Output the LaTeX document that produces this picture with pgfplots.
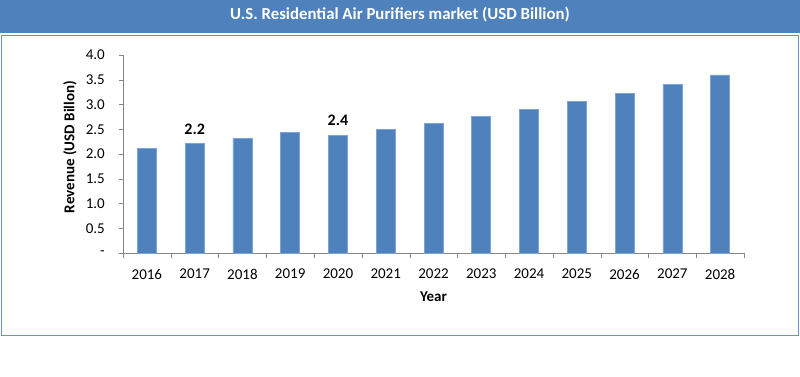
\documentclass[border=0pt]{standalone}
\usepackage{pgfplots}
\pgfplotsset{compat=1.18}
\usepackage{fontspec}
\setmainfont{Carlito}
\definecolor{barblue}{HTML}{4F81BD}
\definecolor{baredge}{HTML}{7FA4D3}
\definecolor{framecol}{HTML}{6A91C6}
\definecolor{axisgray}{HTML}{868686}
\begin{document}
\begin{tikzpicture}
\path (0pt,0pt) rectangle (800pt,376pt);
\fill[barblue] (0pt,343pt) rectangle (800pt,376pt);
\draw[framecol,line width=1.6pt] (1.5pt,40.5pt) rectangle (798.5pt,340.5pt);
\node[text=white,font=\bfseries\fontsize{16.8}{19}\selectfont] at (400pt,361pt) {U.S. Residential Air Purifiers market (USD Billion)};
\begin{axis}[
  at={(123pt,123pt)}, anchor=south west,
  scale only axis, width=621pt, height=198pt,
  xmin=-0.5, xmax=12.5, ymin=0, ymax=4,
  axis x line*=bottom, axis y line*=left,
  axis line style={draw=axisgray,-},
  xtick={0,...,12},
  xticklabels={2016,2017,2018,2019,2020,2021,2022,2023,2024,2025,2026,2027,2028},
  major x tick style={draw=none},
  minor xtick={-0.5,0.5,...,12.5},
  minor tick length=5pt,
  minor x tick style={draw=axisgray},
  ytick={0,0.5,1,1.5,2,2.5,3,3.5,4},
  yticklabels={-,0.5,1.0,1.5,2.0,2.5,3.0,3.5,4.0},
  major tick length=4pt,
  tick align=outside,
  major y tick style={draw=axisgray},
  /pgf/number format/assume math mode=true,
  x tick label style={font=\fontsize{15}{18}\selectfont, anchor=center, yshift=-17pt, inner sep=0pt},
  y tick label style={font=\fontsize{15}{18}\selectfont, anchor=east, xshift=-14pt, inner sep=0pt},
  every axis y label/.style={at={(axis description cs:0,0.535)}, xshift=-53pt, rotate=90, anchor=center, font=\bfseries\fontsize{15}{18}\selectfont},
  every axis x label/.style={at={(axis description cs:0.5,0)}, yshift=-44pt, anchor=center, font=\bfseries\fontsize{15}{18}\selectfont},
  ylabel={Revenue (USD Billon)},
  xlabel={Year},
  clip=false,
]
\addplot[ybar, bar width=19pt, bar shift=0pt, fill=barblue, draw=baredge, line width=0.6pt] coordinates {
(0,2.11) (1,2.21) (2,2.32) (3,2.44) (4,2.38) (5,2.49) (6,2.62) (7,2.76) (8,2.90) (9,3.06) (10,3.23) (11,3.41) (12,3.60)};
\addplot[draw=none, fill=none, mark=none, point meta=explicit symbolic, nodes near coords,
  every node near coord/.append style={font=\bfseries\fontsize{16}{19}\selectfont, anchor=south, inner sep=0pt, yshift=9pt}]
  coordinates {(1,2.21)[2.2] (4,2.38)[2.4]};
\end{axis}
\end{tikzpicture}
\end{document}
